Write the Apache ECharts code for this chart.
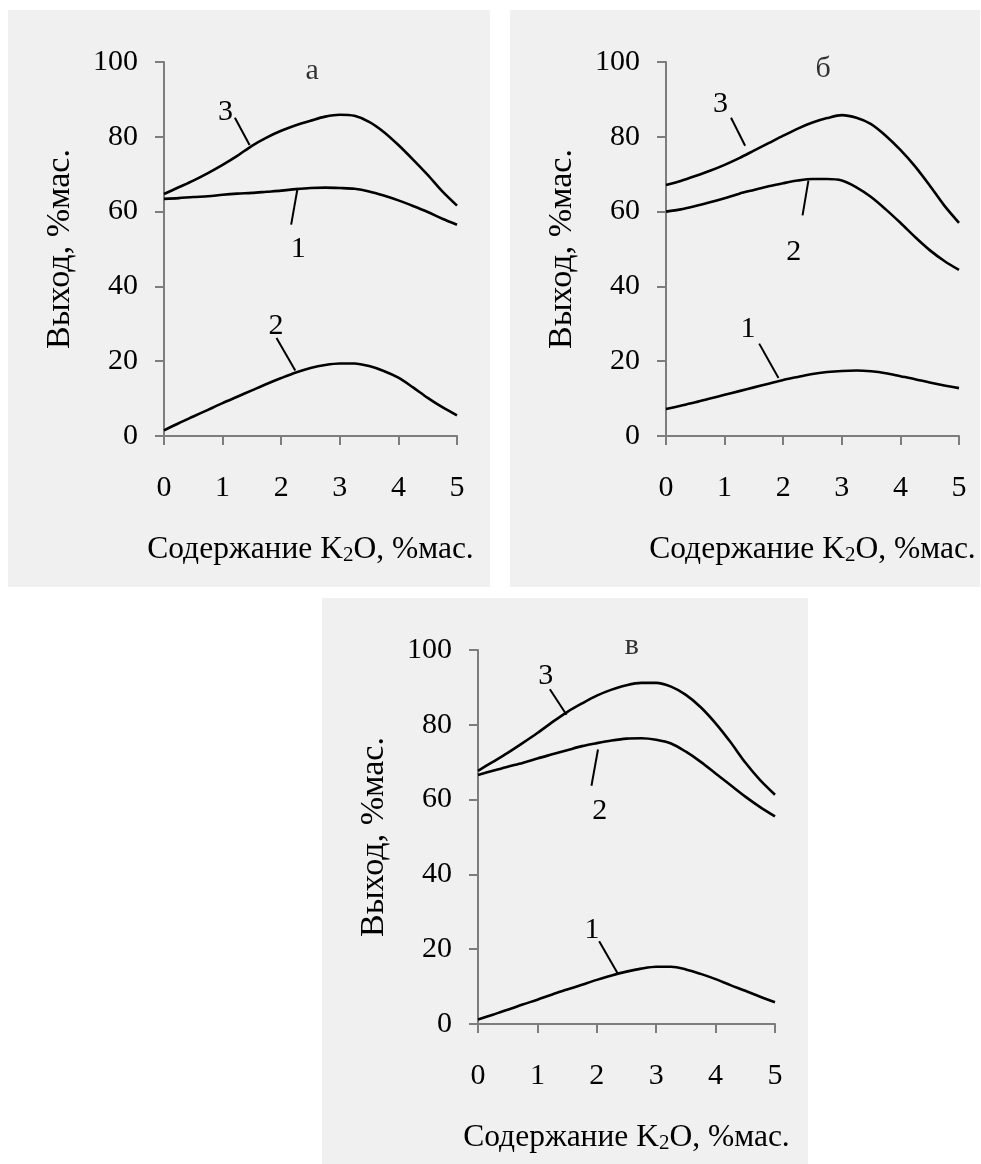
<!DOCTYPE html>
<html>
<head>
<meta charset="utf-8">
<script src="https://cdn.jsdelivr.net/npm/echarts@6/dist/echarts.min.js"></script>
<style>
html,body{margin:0;padding:0;background:#fff;}
#chart{width:981px;height:1164px;}
</style>
</head>
<body>
<div id="chart"></div>
<script>
// ---- data ----
const xValues = [0, 0.25, 0.5, 0.75, 1, 1.25, 1.5, 1.75, 2, 2.25, 2.5, 2.75, 3, 3.25, 3.5, 3.75, 4, 4.25, 4.5, 4.75, 5];

// panel а
const a1 = [63.4, 63.6, 63.9, 64.1, 64.5, 64.8, 65.0, 65.3, 65.6, 66.0, 66.3, 66.4, 66.3, 66.1, 65.4, 64.3, 63.0, 61.5, 59.9, 58.1, 56.5];
const a2 = [1.5, 3.4, 5.2, 7.0, 8.8, 10.5, 12.2, 13.9, 15.5, 17.0, 18.2, 19.0, 19.4, 19.4, 18.7, 17.4, 15.6, 13.0, 10.2, 7.7, 5.5];
const a3 = [64.7, 66.5, 68.3, 70.3, 72.5, 74.9, 77.6, 79.8, 81.6, 83.1, 84.3, 85.4, 85.9, 85.6, 84.0, 81.3, 77.8, 73.9, 69.8, 65.4, 61.6];
// panel б
const b1 = [7.2, 8.1, 9.0, 10.0, 11.0, 12.0, 13.0, 14.0, 15.0, 15.8, 16.6, 17.1, 17.4, 17.5, 17.3, 16.8, 16.0, 15.2, 14.3, 13.5, 12.8];
const b2 = [60.0, 60.6, 61.5, 62.5, 63.6, 64.8, 65.8, 66.8, 67.6, 68.3, 68.7, 68.7, 68.3, 66.5, 63.9, 60.6, 57.0, 53.2, 49.7, 46.8, 44.4];
const b3 = [67.1, 68.2, 69.5, 70.9, 72.5, 74.3, 76.3, 78.3, 80.3, 82.2, 83.8, 85.0, 85.8, 85.1, 83.4, 80.3, 76.5, 72.1, 67.0, 61.6, 57.0];
// panel в
const v1 = [1.2, 2.5, 3.8, 5.2, 6.5, 7.9, 9.2, 10.5, 11.8, 13.0, 14.0, 14.8, 15.3, 15.3, 14.6, 13.4, 12.0, 10.4, 8.9, 7.3, 5.8];
const v2 = [66.6, 67.7, 68.8, 69.8, 71.0, 72.1, 73.2, 74.3, 75.1, 75.8, 76.3, 76.4, 76.0, 75.0, 72.8, 70.1, 67.0, 63.9, 60.8, 58.0, 55.5];
const v3 = [67.7, 70.1, 72.5, 75.1, 77.8, 80.7, 83.4, 85.7, 87.8, 89.4, 90.6, 91.2, 91.2, 90.2, 88.0, 84.7, 80.4, 75.4, 69.9, 65.2, 61.3];

// curve number annotations (data coordinates): [text, labelX, labelY, lineX1, lineY1, lineX2, lineY2]
const aNotes = [['3', 1.05, 86.5, 1.21, 85.1, 1.46, 77.8], ['1', 2.29, 50.1, 2.17, 56.5, 2.28, 66.3], ['2', 1.91, 29.3, 1.92, 26.2, 2.24, 17.5]];
const bNotes = [['3', 0.93, 88.7, 1.11, 85.1, 1.35, 77.6], ['2', 2.18, 49.2, 2.33, 59.0, 2.43, 68.3], ['1', 1.40, 28.6, 1.59, 24.7, 1.92, 15.5]];
const vNotes = [['3', 1.14, 93.1, 1.21, 89.5, 1.49, 82.7], ['2', 2.05, 56.9, 1.91, 63.7, 2.02, 73.4], ['1', 1.92, 25.1, 2.04, 22.1, 2.35, 13.6]];

const panelLetters = ['а', 'б', 'в'];
const letterPos = [[2.53, 97.6], [2.68, 98.0], [2.59, 101.0]];
const yName = 'Выход, %мас.';

// ---- styling / layout ----
const FONT = '"Liberation Serif", "Times New Roman", serif';
const FS = 30;
const AXIS_COLOR = '#7d7d7d';

const grids = [
  {left: 164, top: 62, width: 293, height: 374},
  {left: 666, top: 62, width: 293, height: 374},
  {left: 478, top: 650, width: 297, height: 374}
];
const boxes = [
  {x: 8, y: 10, w: 482, h: 577},
  {x: 510, y: 10, w: 470, h: 577},
  {x: 322, y: 598, w: 486, h: 566}
];

function xAxisFor(i) {
  return {
    type: 'value', gridIndex: i, min: 0, max: 5, interval: 1,
    axisLine: {show: true, lineStyle: {color: AXIS_COLOR, width: 2}},
    axisTick: {show: true, length: 9, lineStyle: {color: AXIS_COLOR, width: 2}},
    splitLine: {show: false},
    axisLabel: {color: '#000', fontFamily: FONT, fontSize: FS, margin: 37},
    name: '{n|Содержание K}{s|2}{n|O, %мас.}',
    nameLocation: 'middle', nameGap: 98,
    nameTextStyle: {
      rich: {
        n: {fontFamily: FONT, fontSize: 31.5, color: '#000'},
        s: {fontFamily: FONT, fontSize: 21, color: '#000', verticalAlign: 'bottom', padding: [7, 0, 0, 0]}
      }
    }
  };
}
function yAxisFor(i) {
  return {
    type: 'value', gridIndex: i, min: 0, max: 100, interval: 20,
    axisLine: {show: true, lineStyle: {color: AXIS_COLOR, width: 2}},
    axisTick: {show: true, length: 9, lineStyle: {color: AXIS_COLOR, width: 2}},
    splitLine: {show: false},
    axisLabel: {color: '#000', fontFamily: FONT, fontSize: FS, margin: 26},
    name: yName, nameLocation: 'middle', nameGap: 87, nameRotate: 90,
    nameTextStyle: {fontFamily: FONT, fontSize: 34, color: '#000'}
  };
}

function zip(ys) { return xValues.map((x, k) => [x, ys[k]]); }

function curve(i, ys, notes) {
  const s = {
    type: 'line', xAxisIndex: i, yAxisIndex: i,
    data: zip(ys), smooth: 0.3, showSymbol: false, symbol: 'none',
    lineStyle: {color: '#000', width: 2.6}, silent: true, animation: false, z: 3
  };
  if (notes) {
    s.markLine = {
      silent: true, symbol: ['none', 'none'], animation: false,
      lineStyle: {color: '#000', width: 2, type: 'solid'},
      label: {show: false},
      data: notes.map(n => [{coord: [n[3], n[4]]}, {coord: [n[5], n[6]]}])
    };
    s.markPoint = {
      silent: true, symbol: 'circle', symbolSize: 0, animation: false,
      label: {show: true, position: 'inside', color: '#000', fontFamily: FONT, fontSize: FS,
        formatter: p => p.name},
      data: notes.map(n => ({name: n[0], coord: [n[1], n[2]]}))
    };
  }
  return s;
}

const series = [
  curve(0, a1, null), curve(0, a2, null), curve(0, a3, aNotes),
  curve(1, b1, null), curve(1, b2, null), curve(1, b3, bNotes),
  curve(2, v1, null), curve(2, v2, null), curve(2, v3, vNotes)
];

panelLetters.forEach((t, i) => {
  series.push({
    type: 'scatter', xAxisIndex: i, yAxisIndex: i, symbolSize: 0, silent: true, animation: false,
    clip: false,
    data: [letterPos[i]],
    label: {show: true, position: 'inside', formatter: t, color: '#000', fontFamily: FONT, fontSize: 30}
  });
});

const chart = echarts.init(document.getElementById('chart'), null, {renderer: 'canvas'});
chart.setOption({
  backgroundColor: '#ffffff',
  animation: false,
  graphic: boxes.map(b => ({type: 'rect', z: -10, silent: true,
    shape: {x: b.x, y: b.y, width: b.w, height: b.h}, style: {fill: '#f0f0f0'}})),
  grid: grids.map(g => Object.assign({containLabel: false}, g)),
  xAxis: [0, 1, 2].map(xAxisFor),
  yAxis: [0, 1, 2].map(yAxisFor),
  series: series
});
</script>
</body>
</html>
